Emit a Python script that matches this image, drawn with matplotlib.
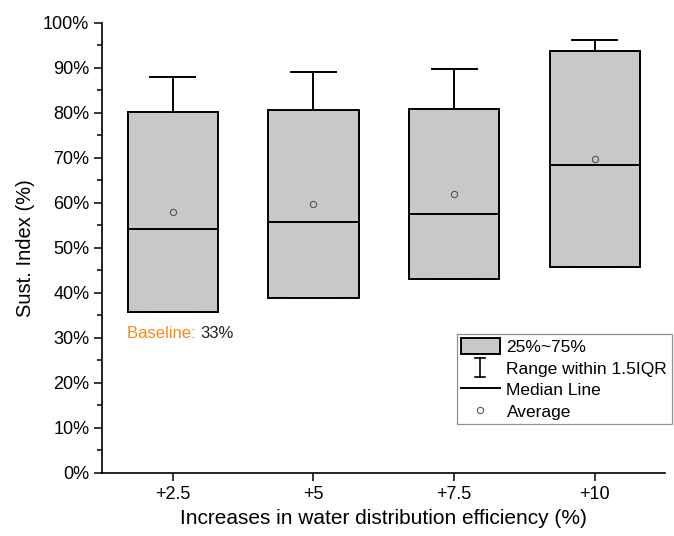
import numpy as np
import matplotlib
matplotlib.use("Agg")
import matplotlib.pyplot as plt
from matplotlib.patches import Patch
from matplotlib.lines import Line2D
from matplotlib.legend_handler import HandlerBase
from matplotlib.ticker import MultipleLocator

plt.rcParams['font.family'] = ['Liberation Sans', 'DejaVu Sans']

# values (percent)
categories = ['+2.5', '+5', '+7.5', '+10']
q1 = [35.8, 38.9, 43.0, 45.7]
medians = [54.2, 55.6, 57.5, 68.4]
q3 = [80.2, 80.6, 80.8, 93.6]
whis_low = [35.8, 38.9, 43.0, 45.7]
whis_high = [87.8, 89.0, 89.6, 96.1]
means = [58.0, 59.7, 61.9, 69.7]
baseline = 33


class IBeamHandler(HandlerBase):
    # whisker symbol: vertical bar with two short caps
    def create_artists(self, legend, orig_handle, xdescent, ydescent,
                       width, height, fontsize, trans):
        cx = width / 2 - xdescent
        y0 = -ydescent - 0.1 * height
        y1 = -ydescent + 1.1 * height
        cw = 0.13 * width
        kw = dict(color='black', lw=1.2, transform=trans)
        return [Line2D([cx, cx], [y0, y1], **kw),
                Line2D([cx - cw, cx + cw], [y0, y0], **kw),
                Line2D([cx - cw, cx + cw], [y1, y1], **kw)]


fig = plt.figure(figsize=(6.74, 5.36), dpi=100)
ax = fig.add_axes([0.152, 0.118, 0.835, 0.840])

stats = []
for i in range(len(categories)):
    stats.append(dict(med=medians[i], q1=q1[i], q3=q3[i],
                      whislo=whis_low[i], whishi=whis_high[i],
                      mean=means[i], fliers=[]))

pos = np.arange(1, len(categories) + 1)
ax.bxp(stats, positions=pos, widths=0.64, capwidths=0.32,
       patch_artist=True, showmeans=False, showfliers=False,
       boxprops=dict(facecolor='#c8c8c8', edgecolor='black', linewidth=1.4),
       medianprops=dict(color='black', linewidth=1.4),
       whiskerprops=dict(color='black', linewidth=1.4),
       capprops=dict(color='black', linewidth=1.4))
ax.plot(pos, means, 'o', ms=4.5, mfc='none', mec='#555555', mew=0.8, zorder=5)

ax.set_xlim(0.5, 4.5)
ax.set_ylim(0, 100)
ax.set_xticks(pos)
ax.set_xticklabels(categories)
ax.set_yticks(np.arange(0, 101, 10))
ax.set_yticklabels([f'{v}%' for v in range(0, 101, 10)])
ax.yaxis.set_minor_locator(MultipleLocator(5))
ax.tick_params(axis='both', which='major', direction='out', length=6, width=1.1, labelsize=13)
ax.tick_params(axis='y', which='minor', direction='out', length=3.5, width=1.1)
ax.spines['top'].set_visible(False)
ax.spines['right'].set_visible(False)
ax.spines['left'].set_linewidth(1.2)
ax.spines['bottom'].set_linewidth(1.2)

ax.set_xlabel('Increases in water distribution efficiency (%)', fontsize=15, labelpad=4)
ax.set_ylabel('Sust. Index (%)', fontsize=14.5, labelpad=6)

# baseline annotation
t = ax.text(0.675, 31, 'Baseline: ', color='#f28a1d', fontsize=12, va='center', ha='left')
ax.annotate(f'{baseline}%', xycoords=t, xy=(1, 0.5), va='center', ha='left', fontsize=12, color='#222222')

# legend in the Origin style
whisker_key = object()
handles = [Patch(facecolor='#c8c8c8', edgecolor='black', linewidth=1.4),
           whisker_key,
           Line2D([], [], color='black', lw=1.4),
           Line2D([], [], ls='none', marker='o', ms=4.5, mfc='none', mec='#555555', mew=0.8)]
labels = ['25%~75%', 'Range within 1.5IQR', 'Median Line', 'Average']
leg = ax.legend(handles, labels, loc='upper left', bbox_to_anchor=(0.63, 0.308),
                handler_map={whisker_key: IBeamHandler()},
                fontsize=12.5, frameon=True, fancybox=False, edgecolor='#777777',
                handlelength=2.2, handleheight=1.0, handletextpad=0.4,
                labelspacing=0.28, borderpad=0.25, borderaxespad=0)
leg.get_frame().set_linewidth(0.9)

fig.savefig('out.png', dpi=100)
